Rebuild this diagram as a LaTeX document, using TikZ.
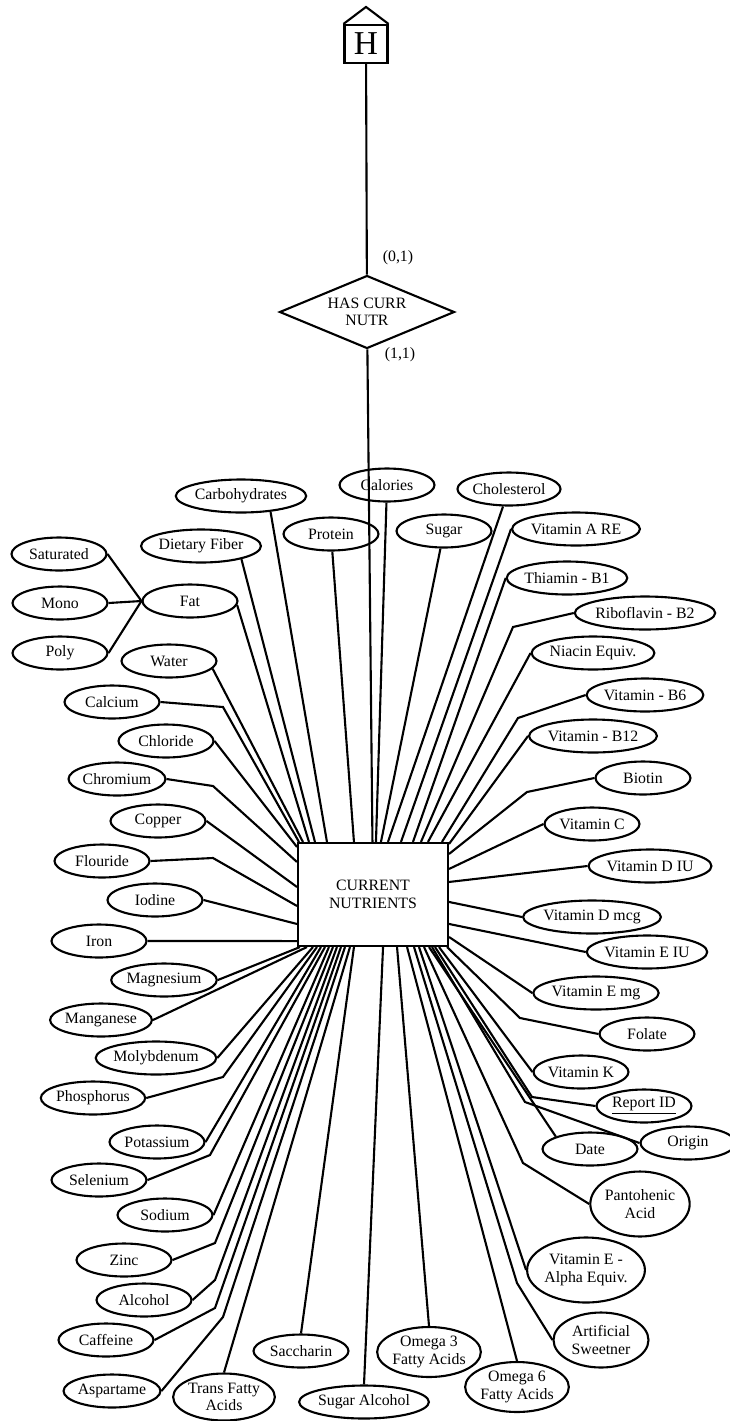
\documentclass[tikz,border=0pt]{standalone}
\usepackage{fontspec}
\setmainfont{Liberation Serif}
\usetikzlibrary{shapes.geometric,calc}

\begin{document}
\begin{tikzpicture}[x=0.02cm, y=-0.02cm, line width=1.2pt, font=\fontsize{9}{10}\selectfont,
  attr/.style={draw, ellipse, inner sep=0pt, minimum width=1.9cm, minimum height=0.66cm, align=center},
  entity/.style={draw, rectangle, minimum width=3cm, minimum height=2.06cm, align=center},
  relbox/.style={draw, diamond, aspect=2.4, inner sep=0pt, minimum width=3.5cm, minimum height=1.46cm, align=center}]
  \useasboundingbox (0,0) rectangle (730,1421);

  % house box, relationship and the entity
  \node [draw, inner sep=0pt, minimum width=0.86cm, minimum height=0.76cm, font=\fontsize{19}{19}\selectfont] (h) at (366,44) {H};
  \draw (h.north west) -- ($(h.north)+(0,-17)$) -- (h.north east);
  \node [relbox] (hcn) at (367,312) {HAS CURR\\NUTR};
  \node (card1) at (398,258) {(0,1)};
  \node (card2) at (400,355) {(1,1)};
  \node [entity] (cn) at (373,894.5) {CURRENT\\NUTRIENTS};
  \draw (h) -- (hcn);
  \draw (hcn) -- (cn);

  % attributes, top
  \node [attr] (carb) at (241,496) {Carbohydrates};
  \node [attr] (cal) at (387,485) {Calories};
  \node [attr] (chol) at (509,489) {Cholesterol};
  \node [attr] (prot) at (331,534) {Protein};
  \node [attr] (sugar) at (444,531) {Sugar};
  \node [attr] (vita) at (576,529) {Vitamin A RE};
  \node [attr] (fiber) at (201,546) {Dietary Fiber};
  \node [attr] (sat) at (59,554) {Saturated};
  \node [attr] (mono) at (60,603) {Mono};
  \node [attr] (fat) at (190,601) {Fat};
  \node [attr] (poly) at (60,653) {Poly};
  \node [attr] (thia) at (567,578) {Thiamin - B1};
  \node [attr] (ribo) at (645,613) {Riboflavin - B2};
  \node [attr] (water) at (169,661) {Water};
  \node [attr] (niac) at (593,653) {Niacin Equiv.};
  % attributes, left and right
  \node [attr] (calc) at (112,702) {Calcium};
  \node [attr] (bsix) at (645,695) {Vitamin - B6};
  \node [attr] (chlor) at (166,741) {Chloride};
  \node [attr] (btwelve) at (593,736) {Vitamin - B12};
  \node [attr] (chrom) at (117,779) {Chromium};
  \node [attr] (biot) at (643,778) {Biotin};
  \node [attr] (copp) at (158,821) {Copper};
  \node [attr] (vitc) at (592,824) {Vitamin C};
  \node [attr] (flou) at (102,861) {Flouride};
  \node [attr] (vitdiu) at (650,866) {Vitamin D IU};
  \node [attr] (iod) at (155,900) {Iodine};
  \node [attr] (vitdmcg) at (592,917) {Vitamin D mcg};
  \node [attr] (iron) at (99,941) {Iron};
  \node [attr] (viteiu) at (647,952) {Vitamin E IU};
  \node [attr] (magn) at (164,980) {Magnesium};
  \node [attr] (vitemg) at (596,993) {Vitamin E mg};
  \node [attr] (mang) at (101,1020) {Manganese};
  \node [attr] (fol) at (647,1034) {Folate};
  \node [attr] (moly) at (156,1058) {Molybdenum};
  \node [attr] (vitk) at (581,1072) {Vitamin K};
  \node [attr] (phos) at (93,1098) {Phosphorus};
  \node [attr] (rep) at (644,1106) {\underline{Report ID}};
  \node [attr] (pot) at (157,1142) {Potassium};
  \node [attr] (orig) at (688,1143) {Origin};
  \node [attr] (date) at (590,1149) {Date};
  \node [attr] (sel) at (99,1180) {Selenium};
  \node [attr, minimum height=1.3cm] (pant) at (640,1204) {Pantohenic\\Acid};
  \node [attr] (sod) at (165,1215) {Sodium};
  % attributes, bottom
  \node [attr] (zinc) at (124,1260) {Zinc};
  \node [attr, minimum height=1.3cm] (vitea) at (586,1270) {Vitamin E -\\Alpha Equiv.};
  \node [attr] (alc) at (144,1300) {Alcohol};
  \node [attr] (caff) at (106,1340) {Caffeine};
  \node [attr, minimum height=1.1cm] (art) at (601,1340) {Artificial\\Sweetner};
  \node [attr] (sacc) at (301,1351) {Saccharin};
  \node [attr, minimum height=1cm] (omthree) at (429,1352) {Omega 3\\Fatty Acids};
  \node [attr, minimum height=1cm] (omsix) at (517,1387) {Omega 6\\Fatty Acids};
  \node [attr] (asp) at (112,1391) {Aspartame};
  \node [attr, minimum height=0.94cm] (trans) at (224,1397) {Trans Fatty\\Acids};
  \node [attr] (sugalc) at (364,1402) {Sugar Alcohol};

  % fat parts
  \draw (sat.east) -- (fat.west);
  \draw (mono.east) -- (fat.west);
  \draw (poly.east) -- (fat.west);

  % to the top edge
  \draw (water.-10) -- ($(cn.north west)+(6,0)$);
  \draw (calc.east) -- (223,707) -- ($(cn.north west)+(2,0)$);
  \draw (fat.-5) -- ($(cn.north west)+(12,0)$);
  \draw (fiber.-18) -- ($(cn.north west)+(18,0)$);
  \draw (carb.-28) -- ($(cn.north west)+(30,0)$);
  \draw (prot) -- ($(cn.north west)+(57,0)$);
  \draw (cal) -- ($(cn.north west)+(79,0)$);
  \draw (sugar) -- ($(cn.north west)+(84,0)$);
  \draw (chol) -- ($(cn.north west)+(91,0)$);
  \draw (vita.west) -- ($(cn.north west)+(104,0)$);
  \draw (thia.west) -- ($(cn.north west)+(116,0)$);
  \draw (ribo.west) -- (513,627) -- ($(cn.north west)+(124,0)$);
  \draw (niac.west) -- ($(cn.north west)+(131,0)$);
  \draw (bsix.west) -- (518,718) -- ($(cn.north west)+(145,0)$);
  \draw (btwelve.west) -- ($(cn.north east)+(0,2)$);

  % to the right edge
  \draw (biot.west) -- (527,792) -- ($(cn.north east)+(0,12)$);
  \draw (vitc.west) -- ($(cn.north east)+(0,27)$);
  \draw (vitdiu.west) -- ($(cn.north east)+(0,40)$);
  \draw (vitdmcg.west) -- ($(cn.north east)+(0,60)$);
  \draw (viteiu.west) -- ($(cn.north east)+(0,82)$);
  \draw (vitemg.west) -- ($(cn.north east)+(0,95)$);

  % to the bottom edge, right half
  \draw (fol.west) -- (520,1018) -- ($(cn.south east)+(-2,0)$);
  \draw (vitk.west) -- ($(cn.south east)+(-10,0)$);
  \draw (rep.west) -- (532,1097) -- ($(cn.south east)+(-14,0)$);
  \draw (orig.west) -- (525,1102) -- ($(cn.south east)+(-17,0)$);
  \draw (date.160) -- ($(cn.south east)+(-20,0)$);
  \draw (pant.west) -- (523,1163) -- ($(cn.south east)+(-25,0)$);
  \draw (vitea.west) -- ($(cn.south east)+(-30,0)$);
  \draw (art.west) -- (517,1283) -- ($(cn.south east)+(-35,0)$);
  \draw (omsix.north) -- ($(cn.south east)+(-42,0)$);
  \draw (omthree.north) -- ($(cn.south east)+(-52,0)$);
  \draw (sugalc.north) -- ($(cn.south east)+(-66,0)$);

  % to the bottom edge, left half
  \draw (sacc.north) -- ($(cn.south west)+(57,0)$);
  \draw (trans.north) -- ($(cn.south west)+(53,0)$);
  \draw (asp.east) -- (223,1317) -- ($(cn.south west)+(48,0)$);
  \draw (caff.east) -- (215,1308) -- ($(cn.south west)+(44,0)$);
  \draw (alc.east) -- (215,1280) -- ($(cn.south west)+(40,0)$);
  \draw (zinc.east) -- (215,1243) -- ($(cn.south west)+(36,0)$);
  \draw (sod.east) -- ($(cn.south west)+(32,0)$);
  \draw (sel.east) -- (210,1155) -- ($(cn.south west)+(28,0)$);
  \draw (pot.east) -- ($(cn.south west)+(24,0)$);
  \draw (phos.east) -- (223,1077) -- ($(cn.south west)+(20,0)$);
  \draw (moly.east) -- ($(cn.south west)+(16,0)$);
  \draw (mang.east) -- ($(cn.south west)+(10,0)$);
  \draw (magn.east) -- ($(cn.south west)+(3,0)$);

  % to the left edge
  \draw (iron.east) -- ($(cn.south west)+(0,-6)$);
  \draw (iod.east) -- ($(cn.north west)+(0,82)$);
  \draw (flou.east) -- (213,858) -- ($(cn.north west)+(0,64)$);
  \draw (copp.east) -- ($(cn.north west)+(0,45)$);
  \draw (chrom.east) -- (213,786) -- ($(cn.north west)+(0,20)$);
  \draw (chlor.east) -- ($(cn.north west)+(0,5)$);
\end{tikzpicture}
\end{document}
